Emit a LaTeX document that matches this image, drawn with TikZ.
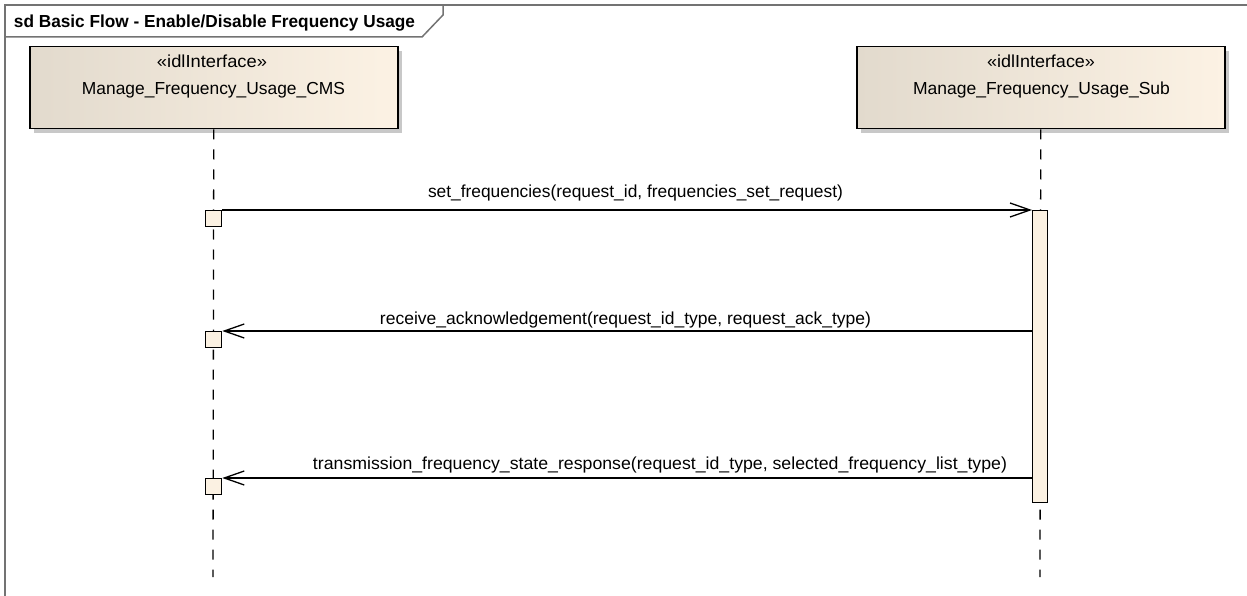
\documentclass[tikz,border=0pt]{standalone}
\usepackage{fontspec}
\setmainfont{Liberation Sans}
\usepackage{graphicx}
\usetikzlibrary{arrows.meta}
\definecolor{boxL}{RGB}{226,218,205}
\definecolor{boxR}{RGB}{252,242,228}
\definecolor{actfill}{RGB}{251,241,226}
\definecolor{framegray}{RGB}{115,115,115}
\definecolor{shadowgray}{RGB}{200,200,200}
\newcommand\fitto[2]{\resizebox{#1}{\height}{#2}}
\begin{document}
\begin{tikzpicture}[x=1pt,y=-1pt,
  every node/.style={font=\fontsize{17.4}{20}\selectfont},
  lifebox/.style={draw=black, line width=1.5pt, left color=boxL, right color=boxR,
    minimum width=368pt, minimum height=82pt, inner sep=0pt, anchor=north west},
  boxshadow/.style={fill=shadowgray},
  txt/.style={inner sep=0pt, anchor=base},
  framel/.style={draw=framegray, line width=1.5pt},
  lifeline/.style={draw=black, line width=1.3pt, dash pattern=on 10pt off 10pt},
  execsq/.style={draw=black, line width=1.3pt, fill=actfill, minimum width=16pt,
    minimum height=16pt, inner sep=0pt, anchor=north west},
  actbar/.style={draw=black, line width=1.3pt, fill=actfill, minimum width=15pt,
    minimum height=292pt, inner sep=0pt, anchor=north west},
  msg/.style={draw=black, line width=1.3pt,
    -{Straight Barb[length=20pt,width=14pt,line width=1.3pt]}}
]
\useasboundingbox (0,0) rectangle (1247,596);
% frame
\draw[framel] (5,596) -- (5,5) -- (1247,5);
\draw[framel] (5,37) -- (422,37) -- (443,15) -- (443,5);
\node[txt] (title) at (214.5,28) {\fitto{401pt}{\bfseries sd Basic Flow - Enable/Disable Frequency Usage}};
% lifeline heads
\fill[boxshadow] (34,51) rectangle (402,133);
\fill[boxshadow] (861,51) rectangle (1229,133);
\node[lifebox] (cms) at (29,46) {};
\node[lifebox] (sub) at (856,46) {};
\node[txt] (cmsst) at (212,68) {\fitto{110pt}{«idlInterface»}};
\node[txt] (cmsname) at (213.5,94.5) {\fitto{263pt}{Manage\_Frequency\_Usage\_CMS}};
\node[txt] (subst) at (1041,68) {\fitto{108pt}{«idlInterface»}};
\node[txt] (subname) at (1041.5,94.5) {\fitto{257pt}{Manage\_Frequency\_Usage\_Sub}};
% lifelines
\coordinate (cmsend) at (213,577);
\coordinate (subend) at (1040,577);
\draw[lifeline] (cms.south) -- (cmsend);
\draw[lifeline] (sub.south) -- (subend);
% activations
\node[execsq] (sq1) at (205,210) {};
\node[execsq] (sq2) at (205,331) {};
\node[execsq] (sq3) at (205,478) {};
\node[actbar] (act) at (1032,210) {};
% messages
\draw[msg] (sq1.north east) -- (act.north west);
\draw[msg] (act.west |- sq2.north) -- (sq2.north east);
\draw[msg] (act.west |- sq3.north) -- (sq3.north east);
\node[txt] (l1) at (635.5,198) {\fitto{415pt}{set\_frequencies(request\_id, frequencies\_set\_request)}};
\node[txt] (l2) at (625.5,324) {\fitto{491pt}{receive\_acknowledgement(request\_id\_type, request\_ack\_type)}};
\node[txt] (l3) at (660,469) {\fitto{694pt}{transmission\_frequency\_state\_response(request\_id\_type, selected\_frequency\_list\_type)}};
\end{tikzpicture}
\end{document}
